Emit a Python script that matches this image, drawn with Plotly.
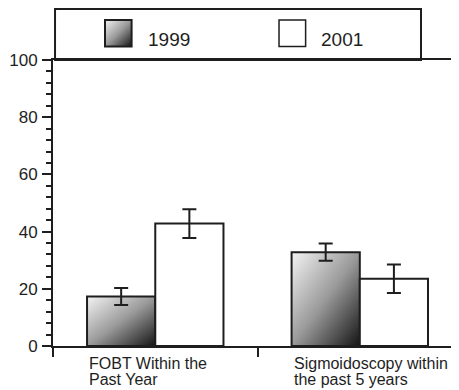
import base64
import plotly.graph_objects as go

# ---- data ----
categories = ["FOBT Within the\nPast Year", "Sigmoidoscopy within\nthe past 5 years"]
series_names = ["1999", "2001"]
values_1999 = [17.3, 32.8]
values_2001 = [42.8, 23.5]
err_1999 = [3.0, 3.0]
err_2001 = [5.0, 5.0]
y_ticks = [0, 20, 40, 60, 80, 100]

INK = "#1e1e1e"
FONT = "Liberation Sans, Arial, Helvetica, sans-serif"
BARGAP = 0.333
half = (1 - BARGAP) / 2

svg = ("<svg xmlns='http://www.w3.org/2000/svg' width='100' height='100' viewBox='0 0 100 100' "
       "preserveAspectRatio='none'><defs><linearGradient id='g' x1='0' y1='0' x2='1' y2='1'>"
       "<stop offset='0' stop-color='#f4f4f4'/><stop offset='0.5' stop-color='#9a9a9a'/>"
       "<stop offset='1' stop-color='#141414'/></linearGradient></defs>"
       "<rect width='100' height='100' fill='url(#g)'/></svg>")
grad_src = "data:image/svg+xml;base64," + base64.b64encode(svg.encode()).decode()

fig = go.Figure()
fig.add_trace(go.Bar(
    x=categories, y=values_1999, name=series_names[0],
    marker=dict(color="rgba(0,0,0,0)", line=dict(color=INK, width=2)),
    error_y=dict(type="data", array=err_1999, color=INK, thickness=2, width=7),
))
fig.add_trace(go.Bar(
    x=categories, y=values_2001, name=series_names[1],
    marker=dict(color="white", line=dict(color=INK, width=2)),
    error_y=dict(type="data", array=err_2001, color=INK, thickness=2, width=7),
))

images = []
for i, v in enumerate(values_1999):
    images.append(dict(source=grad_src, xref="x", yref="y", x=i - half, y=v,
                       sizex=half, sizey=v, xanchor="left", yanchor="top",
                       sizing="stretch", layer="below"))

# custom legend
shapes = [dict(type="rect", xref="paper", yref="paper", x0=0.005, x1=0.9064,
               y0=1.0, y1=1.178, line=dict(color=INK, width=2), fillcolor="rgba(0,0,0,0)")]
annotations = []
sw_x = [0.1281, 0.5567]
txt_x = [0.2291, 0.6552]
sw_w = 0.0655
sw_y0, sw_y1 = 1.0472, 1.1399
for k, name in enumerate(series_names):
    if k == 0:
        images.append(dict(source=grad_src, xref="paper", yref="paper", x=sw_x[k], y=sw_y1,
                           sizex=sw_w, sizey=sw_y1 - sw_y0, xanchor="left", yanchor="top",
                           sizing="stretch", layer="above"))
        shapes.append(dict(type="rect", xref="paper", yref="paper", x0=sw_x[k], x1=sw_x[k] + sw_w,
                           y0=sw_y0, y1=sw_y1, line=dict(color=INK, width=2)))
    else:
        shapes.append(dict(type="rect", xref="paper", yref="paper", x0=sw_x[k], x1=sw_x[k] + sw_w,
                           y0=sw_y0, y1=sw_y1, line=dict(color=INK, width=1.5), fillcolor="white"))
    annotations.append(dict(text=name, xref="paper", yref="paper", x=txt_x[k], y=1.0717,
                            xanchor="left", yanchor="middle", showarrow=False,
                            font=dict(size=19, color=INK, family=FONT)))

# category labels, left aligned at bar group start
for i, cat in enumerate(categories):
    for j, line in enumerate(cat.split("\n")):
        annotations.append(dict(text=line, xref="x", yref="paper", x=i - half, y=0,
                                xanchor="left", yanchor="top", yshift=-7 - 16 * j,
                                showarrow=False, font=dict(size=16, color=INK, family=FONT)))

# the page body adds an 8px offset; size the figure so the plot lands where the reference has it
fig.update_layout(
    width=451, height=382,
    margin=dict(l=45, r=0, t=52, b=44, autoexpand=False),
    paper_bgcolor="white", plot_bgcolor="white",
    barmode="group", bargap=BARGAP, bargroupgap=0,
    showlegend=False,
    images=images, shapes=shapes, annotations=annotations,
    font=dict(family=FONT, color=INK),
)
fig.update_xaxes(
    type="category", range=[-0.5, 1.485], automargin=False,
    showline=True, linecolor=INK, linewidth=2, mirror=True,
    showgrid=False, zeroline=False,
    ticks="outside", tickson="boundaries", ticklen=9, tickwidth=1.5, tickcolor=INK,
    showticklabels=False,
)
fig.update_yaxes(
    range=[0, 100], tickvals=y_ticks, automargin=False,
    showline=True, linecolor=INK, linewidth=2,
    showgrid=False, zeroline=False,
    ticks="outside", ticklen=9, tickwidth=2, tickcolor=INK,
    minor=dict(dtick=4, tick0=0, ticks="outside", ticklen=5, tickwidth=1.5, tickcolor=INK, showgrid=False),
    tickfont=dict(size=17, color=INK, family=FONT),
    ticklabelstandoff=1,
)

fig.write_html("out.html")
